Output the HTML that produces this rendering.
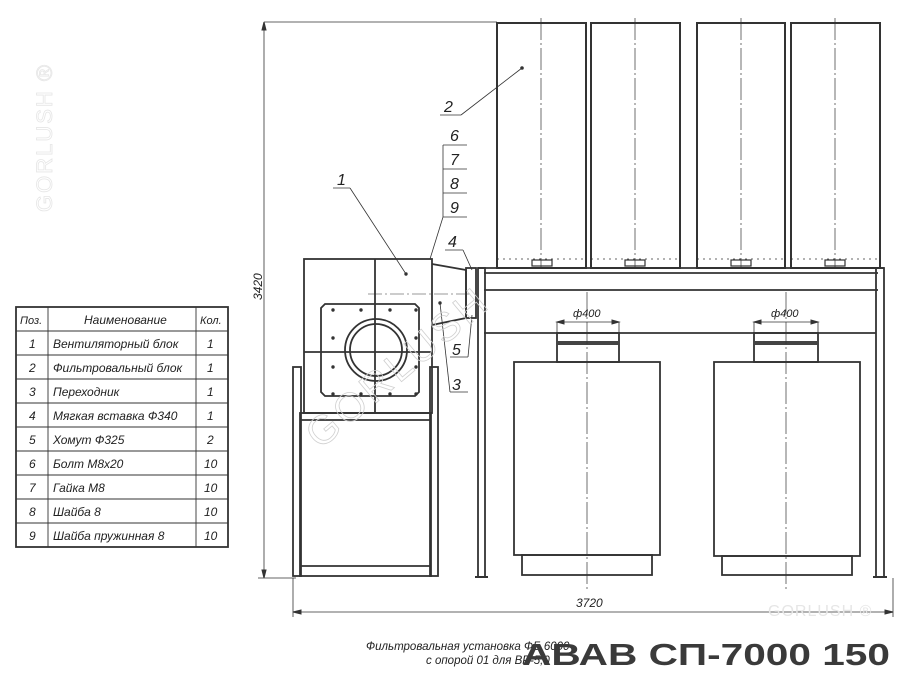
<!DOCTYPE html>
<html><head><meta charset="utf-8"><style>
html,body{margin:0;padding:0;background:#fff}
svg{display:block}
text{font-family:"Liberation Sans","DejaVu Sans",sans-serif;font-style:italic;fill:#222}
</style></head><body>
<svg width="900" height="674" viewBox="0 0 900 674" xmlns="http://www.w3.org/2000/svg">
<g stroke="#333" fill="none">
<line x1="264" y1="22" x2="497" y2="22" stroke-width="0.8"/>
<line x1="264" y1="22" x2="264" y2="578" stroke-width="0.8"/>
<line x1="258" y1="578" x2="296" y2="578" stroke-width="0.8"/>
<path d="M264 22 l-2 8 h4z M264 578 l-2 -8 h4z" fill="#333"/>
<line x1="293" y1="578" x2="293" y2="617" stroke-width="0.8"/>
<line x1="893" y1="578" x2="893" y2="617" stroke-width="0.8"/>
<line x1="293" y1="612" x2="893" y2="612" stroke-width="0.8"/>
<path d="M293 612 l8 -2 v4z M893 612 l-8 -2 v4z" fill="#333"/>

<g stroke-width="2">
<rect x="497" y="23" width="89" height="245"/>
<rect x="591" y="23" width="89" height="245"/>
<rect x="697" y="23" width="88" height="245"/>
<rect x="791" y="23" width="89" height="245"/>
</g>
<g stroke-width="0.7" stroke-dasharray="22 3 2 3">
<line x1="541" y1="18" x2="541" y2="268"/><line x1="635" y1="18" x2="635" y2="268"/>
<line x1="741" y1="18" x2="741" y2="268"/><line x1="835" y1="18" x2="835" y2="268"/>
</g>
<g stroke-width="0.8" stroke-dasharray="2 4">
<line x1="497" y1="259" x2="586" y2="259"/><line x1="591" y1="259" x2="680" y2="259"/>
<line x1="697" y1="259" x2="785" y2="259"/><line x1="791" y1="259" x2="880" y2="259"/>
</g>
<g stroke-width="1.2">
<rect x="532" y="260" width="20" height="6"/><rect x="625" y="260" width="20" height="6"/>
<rect x="731" y="260" width="20" height="6"/><rect x="825" y="260" width="20" height="6"/>
</g>

<g stroke-width="1.8">
<line x1="478" y1="268" x2="884" y2="268"/>
<line x1="484" y1="273" x2="878" y2="273"/>
<line x1="484" y1="290" x2="878" y2="290"/>
<line x1="484" y1="333" x2="876" y2="333"/>
<rect x="478" y="268" width="7" height="309"/>
<rect x="876" y="268" width="8" height="309"/>
<line x1="475" y1="577" x2="488" y2="577" stroke-width="2"/>
<line x1="873" y1="577" x2="887" y2="577" stroke-width="2"/>
</g>

<g stroke-width="1.8">
<rect x="557" y="333" width="62" height="29"/>
<rect x="754" y="333" width="64" height="29"/>
<rect x="514" y="362" width="146" height="193"/>
<rect x="522" y="555" width="130" height="20"/>
<rect x="714" y="362" width="146" height="194"/>
<rect x="722" y="556" width="130" height="19"/>
</g>
<rect x="557" y="341" width="62" height="4" fill="#444" stroke="none"/>
<rect x="754" y="341" width="64" height="4" fill="#444" stroke="none"/>
<g stroke-width="0.7" stroke-dasharray="22 3 2 3">
<line x1="587" y1="292" x2="587" y2="590"/><line x1="786" y1="292" x2="786" y2="590"/>
</g>
<g stroke-width="0.8">
<line x1="557" y1="322" x2="557" y2="334"/><line x1="619" y1="322" x2="619" y2="334"/>
<line x1="557" y1="322" x2="619" y2="322"/>
<line x1="754" y1="322" x2="754" y2="334"/><line x1="818" y1="322" x2="818" y2="334"/>
<line x1="754" y1="322" x2="818" y2="322"/>
</g>
<path d="M557 322 l7 -2 v4z M619 322 l-7 -2 v4z M754 322 l7 -2 v4z M818 322 l-7 -2 v4z" fill="#333"/>

<g stroke-width="1.8">
<rect x="293" y="367" width="8" height="209"/>
<rect x="430" y="367" width="8" height="209"/>
<rect x="300" y="413" width="131" height="163"/>
<line x1="300" y1="420" x2="431" y2="420"/>
<line x1="300" y1="566" x2="431" y2="566"/>
<rect x="304" y="259" width="128" height="154"/>
<line x1="375" y1="259" x2="375" y2="413"/>
<line x1="304" y1="352" x2="432" y2="352"/>
<path d="M325 304 H415 L419 308 V392 L415 396 H325 L321 392 V308Z"/>
<circle cx="376" cy="350" r="31"/>
<circle cx="376" cy="350" r="26"/>
<path d="M432 264 L466 270 V318 L432 325" />
<rect x="466" y="268" width="10" height="50"/>
</g>
<line x1="368" y1="294" x2="470" y2="294" stroke-width="0.6" stroke-dasharray="14 3 2 3"/>
<g fill="#333" stroke="none">
<circle cx="333" cy="310" r="1.7"/><circle cx="361" cy="310" r="1.7"/><circle cx="390" cy="310" r="1.7"/><circle cx="416" cy="310" r="1.7"/>
<circle cx="333" cy="338" r="1.7"/><circle cx="416" cy="338" r="1.7"/>
<circle cx="333" cy="367" r="1.7"/><circle cx="416" cy="367" r="1.7"/>
<circle cx="333" cy="394" r="1.7"/><circle cx="361" cy="394" r="1.7"/><circle cx="390" cy="394" r="1.7"/><circle cx="416" cy="394" r="1.7"/>
<circle cx="406" cy="274" r="1.7"/><circle cx="440" cy="303" r="1.7"/><circle cx="522" cy="68" r="1.8"/>
</g>

<g stroke-width="0.8">
<line x1="440" y1="115" x2="461" y2="115"/><line x1="461" y1="115" x2="522" y2="68"/>
<line x1="443" y1="145" x2="467" y2="145"/><line x1="443" y1="169" x2="467" y2="169"/>
<line x1="443" y1="193" x2="467" y2="193"/><line x1="443" y1="217" x2="467" y2="217"/>
<line x1="443" y1="145" x2="443" y2="217"/><line x1="443" y1="217" x2="430" y2="259"/>
<line x1="333" y1="188" x2="350" y2="188"/><line x1="350" y1="188" x2="406" y2="274"/>
<line x1="445" y1="250" x2="463" y2="250"/><line x1="463" y1="250" x2="472" y2="270"/>
<line x1="450" y1="357" x2="468" y2="357"/><line x1="468" y1="357" x2="472" y2="315"/>
<line x1="450" y1="392" x2="468" y2="392"/><line x1="450" y1="392" x2="440" y2="303"/>
</g>

<rect x="16" y="307" width="212" height="240" stroke-width="1.8"/>
<g stroke-width="0.9">
<line x1="48" y1="307" x2="48" y2="547"/><line x1="196" y1="307" x2="196" y2="547"/>
<line x1="16" y1="331" x2="228" y2="331"/><line x1="16" y1="355" x2="228" y2="355"/>
<line x1="16" y1="379" x2="228" y2="379"/><line x1="16" y1="403" x2="228" y2="403"/>
<line x1="16" y1="427" x2="228" y2="427"/><line x1="16" y1="451" x2="228" y2="451"/>
<line x1="16" y1="475" x2="228" y2="475"/><line x1="16" y1="499" x2="228" y2="499"/>
<line x1="16" y1="523" x2="228" y2="523"/>
</g>
</g>

<g font-size="12">
<text x="20" y="324" font-size="11">Поз.</text>
<text x="84" y="324">Наименование</text>
<text x="200" y="324" font-size="11">Кол.</text>
<text x="29" y="348">1</text><text x="53" y="348">Вентиляторный блок</text><text x="207" y="348">1</text>
<text x="29" y="372">2</text><text x="53" y="372">Фильтровальный блок</text><text x="207" y="372">1</text>
<text x="29" y="396">3</text><text x="53" y="396">Переходник</text><text x="207" y="396">1</text>
<text x="29" y="420">4</text><text x="53" y="420">Мягкая вставка Ф340</text><text x="207" y="420">1</text>
<text x="29" y="444">5</text><text x="53" y="444">Хомут Ф325</text><text x="207" y="444">2</text>
<text x="29" y="468">6</text><text x="53" y="468">Болт М8х20</text><text x="204" y="468">10</text>
<text x="29" y="492">7</text><text x="53" y="492">Гайка М8</text><text x="204" y="492">10</text>
<text x="29" y="516">8</text><text x="53" y="516">Шайба 8</text><text x="204" y="516">10</text>
<text x="29" y="540">9</text><text x="53" y="540">Шайба пружинная 8</text><text x="204" y="540">10</text>
</g>

<g font-size="16">
<text x="444" y="112">2</text>
<text x="450" y="141">6</text><text x="450" y="165">7</text><text x="450" y="189">8</text><text x="450" y="213">9</text>
<text x="337" y="185">1</text>
<text x="448" y="247">4</text>
<text x="452" y="355">5</text>
<text x="452" y="390">3</text>
</g>
<text x="252" y="310" font-size="12" transform="rotate(-90 252 300)">3420</text>
<text x="576" y="607" font-size="12">3720</text>
<text x="573" y="317" font-size="11">ф400</text>
<text x="771" y="317" font-size="11">ф400</text>

<text x="366" y="650" font-size="11.5">Фильтровальная установка ФБ 6000</text>
<text x="426" y="664" font-size="11.5">с опорой 01 для ВР-5,0</text>
<text x="522" y="665" font-size="31" textLength="368" lengthAdjust="spacingAndGlyphs" style="font-family:'Liberation Sans',sans-serif;font-style:normal;font-weight:bold;fill:#3a3a3a">АВАВ  СП-7000  150</text>

<text x="52" y="212" font-size="22" transform="rotate(-90 52 212)" style="font-style:normal;fill:none;stroke:#e6e6e6;stroke-width:0.8;letter-spacing:2px">GORLUSH ®</text>
<text x="768" y="616" font-size="16" style="font-style:normal;fill:#e6e6e6;letter-spacing:1px">GORLUSH ®</text>
<text x="320" y="450" font-size="40" transform="rotate(-40 320 450)" style="font-style:normal;fill:none;stroke:#d0d0d0;stroke-width:0.8;letter-spacing:4px">GORLUSH</text>
</svg>
</body></html>
